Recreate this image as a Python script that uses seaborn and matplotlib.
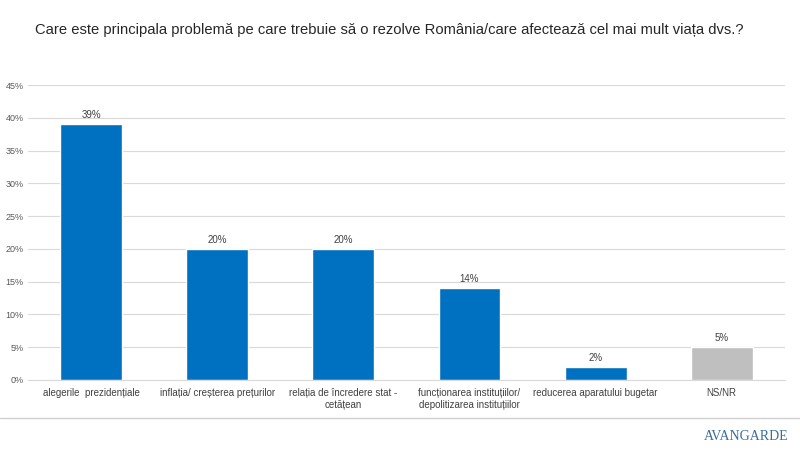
import matplotlib
matplotlib.use("Agg")
import matplotlib.pyplot as plt
import seaborn as sns
import pandas as pd
from matplotlib.ticker import PercentFormatter

title = "Care este principala problemă pe care trebuie să o rezolve România/care afectează cel mai mult viața dvs.?"
categories = [
    "alegerile  prezidențiale",
    "inflația/ creșterea prețurilor",
    "relația de încredere stat -\ncetățean",
    "funcționarea instituțiilor/\ndepolitizarea instituțiilor",
    "reducerea aparatului bugetar",
    "NS/NR",
]
values = [0.39, 0.20, 0.20, 0.14, 0.02, 0.05]
bar_colors = ["#0070C0", "#0070C0", "#0070C0", "#0070C0", "#0070C0", "#BFBFBF"]

df = pd.DataFrame({"cat": categories, "val": values})

sns.set_style("white")
plt.rcParams['font.family'] = ['Liberation Sans', 'DejaVu Sans']

fig = plt.figure(figsize=(8, 4.5), dpi=100)
ax = fig.add_axes([0.035, 0.156, 0.946, 0.655])

sns.barplot(data=df, x="cat", y="val", hue="cat", palette=bar_colors,
            legend=False, width=0.49, ax=ax, saturation=1)

for i, v in enumerate(values):
    ax.text(i, v + 0.006, f"{v:.0%}", ha="center", va="bottom",
            fontsize=7, color="#404040")

ax.set_ylim(0, 0.45)
ax.set_yticks([i * 0.05 for i in range(10)])
ax.yaxis.set_major_formatter(PercentFormatter(1.0, decimals=0))
ax.grid(axis="y", color="#D9D9D9", linewidth=0.8)
ax.set_axisbelow(True)
for s in ["top", "right", "left"]:
    ax.spines[s].set_visible(False)
ax.spines["bottom"].set_color("#D9D9D9")
ax.tick_params(axis="y", labelsize=6.5, colors="#595959", length=0, pad=3)
ax.tick_params(axis="x", labelsize=7, colors="#404040", length=0, pad=6)
ax.set_xlabel("")
ax.set_ylabel("")
ax.set_xlim(-0.5, 5.5)

fig.text(0.044, 0.933, title, fontsize=10.6, color="#262626", ha="left", va="center")

# separator and logo
fig.add_artist(plt.Line2D([0, 1], [1 - 418 / 450] * 2, color="#D0D0D0", linewidth=1))
fig.text(0.985, 0.015, "AVANGARDE", fontsize=10, color="#3A6E9A",
         family=["Liberation Serif", "DejaVu Serif"], ha="right", va="bottom")

fig.savefig("out.png", dpi=100)
